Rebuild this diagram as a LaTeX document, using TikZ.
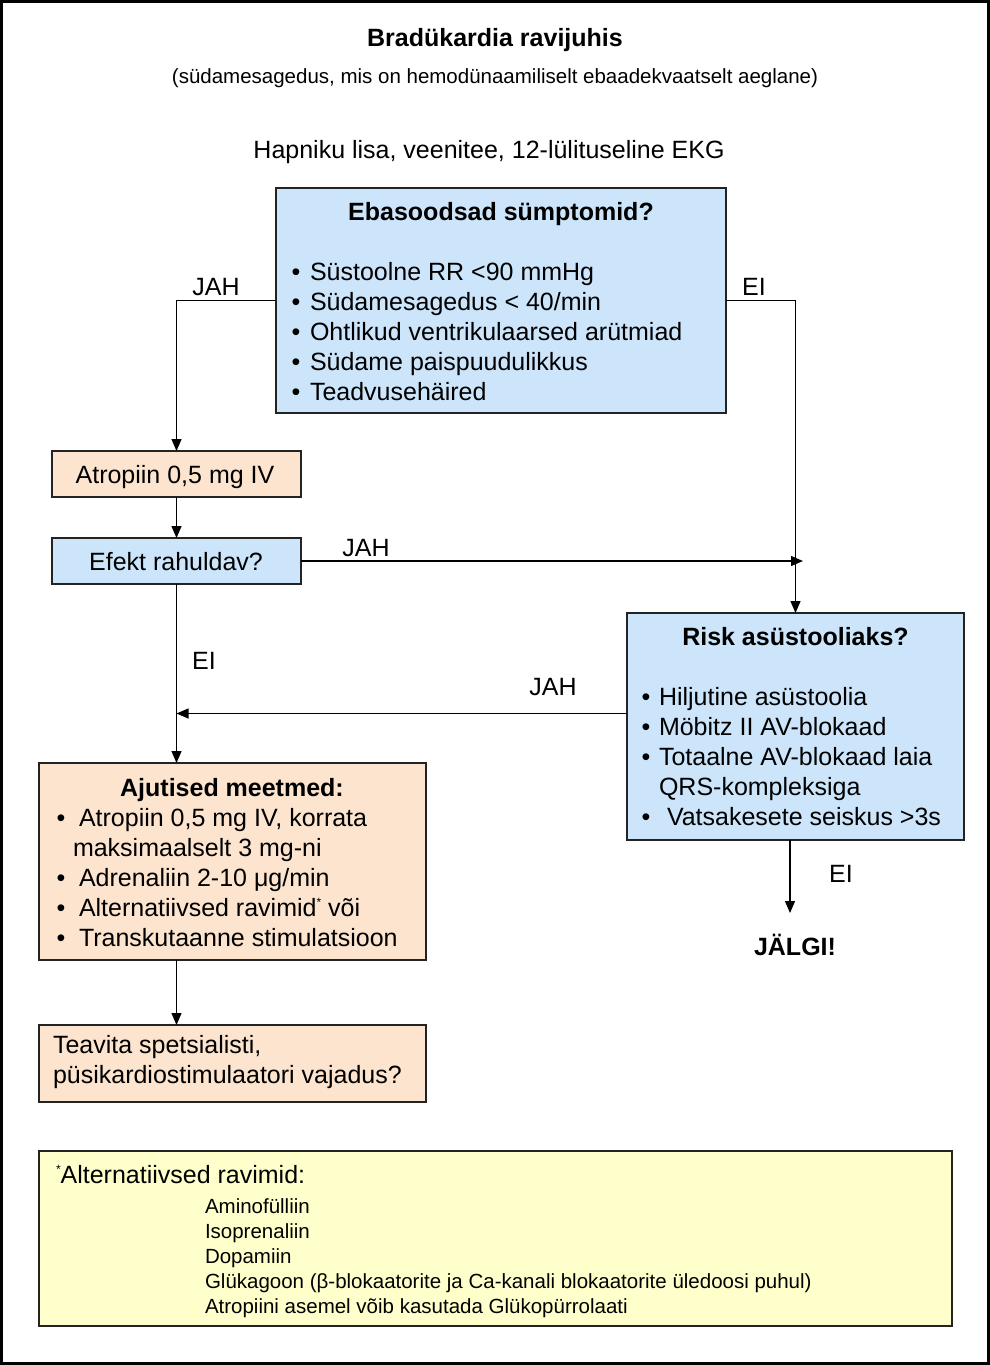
\documentclass[tikz,border=0pt]{standalone}
\usepackage{fontspec}
\setmainfont{Liberation Sans}
\usetikzlibrary{arrows.meta}
\definecolor{boxblue}{RGB}{204,229,250}
\definecolor{boxpeach}{RGB}{252,228,206}
\definecolor{boxyellow}{RGB}{255,255,204}
\definecolor{edgecol}{RGB}{35,35,35}
\newcommand{\fmain}{\fontsize{25}{30}\selectfont}
\newcommand{\fsmall}{\fontsize{20.5}{25}\selectfont}
\newcommand{\smallstar}{{\fontsize{12}{12}\selectfont\raisebox{10pt}{*}}}
\begin{document}
\begin{tikzpicture}[x=1pt,y=-1pt,
  box/.style={draw=edgecol,line width=1.4pt,inner sep=0pt,outer sep=0pt,anchor=north west},
  bluebox/.style={box,fill=boxblue},
  peachbox/.style={box,fill=boxpeach},
  yellowbox/.style={box,fill=boxyellow},
  t/.style={anchor=base west,inner sep=0pt,outer sep=0pt,font=\fmain},
  tc/.style={t,anchor=base},
  tb/.style={tc,font=\fmain\bfseries},
  ts/.style={t,font=\fsmall},
  bul/.style={tc},
  arr/.style={draw=black,line width=1.3pt,-{Triangle[length=12pt,width=10pt]}},
  ln/.style={draw=black,line width=1.3pt}]
\useasboundingbox (0,0) rectangle (990,1365);
\draw[line width=2.6pt] (1.3,1.3) rectangle (988.7,1363.7);

% header texts
\node[tb] (title) at (495,46) {Bradükardia ravijuhis};
\node[tc,font=\fsmall] (sub) at (495,83.5) {(südamesagedus, mis on hemodünaamiliselt ebaadekvaatselt aeglane)};
\node[tc] (hap) at (489,158.5) {Hapniku lisa, veenitee, 12-lülituseline EKG};

% boxes
\node[bluebox,minimum width=450pt,minimum height=225pt] (sym) at (276,188) {};
\node[peachbox,minimum width=249pt,minimum height=46pt] (atr) at (52,451) {};
\node[bluebox,minimum width=249pt,minimum height=46pt] (eff) at (52,538) {};
\node[bluebox,minimum width=337pt,minimum height=227pt] (risk) at (627,613) {};
\node[peachbox,minimum width=387pt,minimum height=197pt] (aju) at (39,763) {};
\node[peachbox,minimum width=387pt,minimum height=77pt] (tea) at (39,1025) {};
\node[yellowbox,minimum width=913pt,minimum height=175pt] (alt) at (39,1151) {};

% box 1 text
\node[tb] (symT) at (501,220.5) {Ebasoodsad sümptomid?};
\node[bul] (b11) at (296,280.5) {•}; \node[t] (s11) at (310,280.5) {Süstoolne RR <90 mmHg};
\node[bul] (b12) at (296,310.5) {•}; \node[t] (s12) at (310,310.5) {Südamesagedus < 40/min};
\node[bul] (b13) at (296,340.5) {•}; \node[t] (s13) at (310,340.5) {Ohtlikud ventrikulaarsed arütmiad};
\node[bul] (b14) at (296,370.5) {•}; \node[t] (s14) at (310,370.5) {Südame paispuudulikkus};
\node[bul] (b15) at (296,400.5) {•}; \node[t] (s15) at (310,400.5) {Teadvusehäired};

% small boxes text
\node[tc] (atrT) at (175,483.5) {Atropiin 0,5 mg IV};
\node[tc] (effT) at (176,570.5) {Efekt rahuldav?};

% risk box text
\node[tb] (riskT) at (795.5,645.5) {Risk asüstooliaks?};
\node[bul] (b21) at (646,705.5) {•}; \node[t] (s21) at (659,705.5) {Hiljutine asüstoolia};
\node[bul] (b22) at (646,735.5) {•}; \node[t] (s22) at (659,735.5) {Möbitz II AV-blokaad};
\node[bul] (b23) at (646,765.5) {•}; \node[t] (s23) at (659,765.5) {Totaalne AV-blokaad laia};
\node[t] (s23b) at (659,795.5) {QRS-kompleksiga};
\node[bul] (b24) at (646,825.5) {•}; \node[t] (s24) at (667,825.5) {Vatsakesete seiskus >3s};

% ajutised text
\node[tb] (ajuT) at (232,796.5) {Ajutised meetmed:};
\node[bul] (b31) at (61,826.5) {•}; \node[t] (s31) at (79,826.5) {Atropiin 0,5 mg IV, korrata};
\node[t] (s31b) at (73,856.5) {maksimaalselt 3 mg-ni};
\node[bul] (b32) at (61,886.5) {•}; \node[t] (s32) at (79,886.5) {Adrenaliin 2-10 μg/min};
\node[bul] (b33) at (61,916.5) {•}; \node[t] (s33) at (79,916.5) {Alternatiivsed ravimid\smallstar{} või};
\node[bul] (b34) at (61,946.5) {•}; \node[t] (s34) at (79,946.5) {Transkutaanne stimulatsioon};

% teavita text
\node[t] (tea1) at (53,1053.5) {Teavita spetsialisti,};
\node[t] (tea2) at (53,1083.5) {püsikardiostimulaatori vajadus?};

% alternatives
\node[t] (altH) at (56,1183.5) {\smallstar Alternatiivsed ravimid:};
\node[ts] (a1) at (205,1213) {Aminofülliin};
\node[ts] (a2) at (205,1238.5) {Isoprenaliin};
\node[ts] (a3) at (205,1263.5) {Dopamiin};
\node[ts] (a4) at (205,1288) {Glükagoon (β-blokaatorite ja Ca-kanali blokaatorite üledoosi puhul)};
\node[ts] (a5) at (205,1313) {Atropiini asemel võib kasutada Glükopürrolaati};

% connector labels
\node[tc] (lj1) at (216,295.5) {JAH};
\node[tc] (le1) at (754,295.5) {EI};
\node[tc] (lj2) at (366,556.5) {JAH};
\node[tc] (le2) at (204,669.5) {EI};
\node[tc] (lj3) at (553,695.5) {JAH};
\node[tc] (le3) at (841,882.5) {EI};
\node[tb] (jalgi) at (795,955.5) {JÄLGI!};

% connectors
\coordinate (jahEnd) at (803,563);
\coordinate (eiEnd) at (790,913);
\draw[arr] (sym.west) -| (atr.north);
\draw[arr] (sym.east) -| (risk.north);
\draw[arr] (atr.south) -- (eff.north);
\draw[arr] (eff.east) -- (eff.east -| jahEnd);
\draw[arr] (eff.south) -- (eff.south |- aju.north);
\draw[arr] ([yshift=13pt]risk.west) coordinate (rj) -- (rj -| eff.south);
\draw[arr] (risk.south -| eiEnd) -- (eiEnd);
\draw[arr] (aju.south -| eff.south) -- (tea.north -| eff.south);
\end{tikzpicture}
\end{document}
